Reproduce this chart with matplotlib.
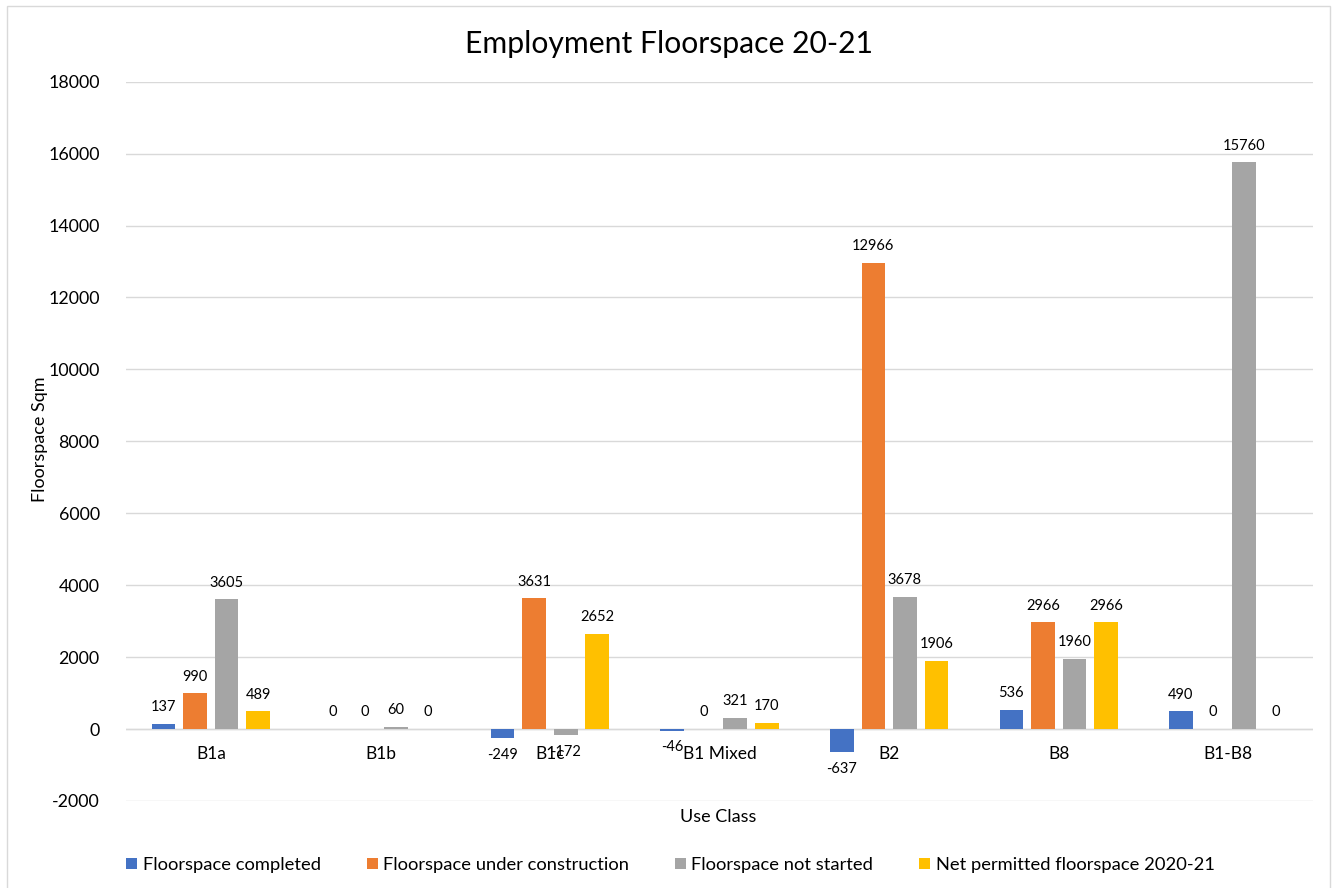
import matplotlib
matplotlib.use("Agg")
import matplotlib.pyplot as plt
from matplotlib.patches import Rectangle
import numpy as np

plt.rcParams['font.family'] = ['Lato', 'DejaVu Sans']

categories = ["B1a", "B1b", "B1c", "B1 Mixed", "B2", "B8", "B1-B8"]
series_names = ["Floorspace completed", "Floorspace under construction",
                "Floorspace not started", "Net permitted floorspace 2020-21"]
completed = [137, 0, -249, -46, -637, 536, 490]
under_construction = [990, 0, 3631, 0, 12966, 2966, 0]
not_started = [3605, 60, -172, 321, 3678, 1960, 15760]
net_permitted = [489, 0, 2652, 170, 1906, 2966, 0]
series = [completed, under_construction, not_started, net_permitted]
colors = ["#4472C4", "#ED7D31", "#A5A5A5", "#FFC000"]
yticks = list(range(-2000, 18001, 2000))

fig = plt.figure(figsize=(13.38, 8.88), dpi=100)
ax = fig.add_axes([0.0942, 0.098, 0.8871, 0.81])

x = np.arange(len(categories))
slot = 0.186
width = 0.139
for k, (vals, col, name) in enumerate(zip(series, colors, series_names)):
    pos = x + (k - 1.5) * slot
    ax.bar(pos, vals, width=width, color=col, label=name, zorder=3)
    for px, v in zip(pos, vals):
        if v >= 0:
            ax.annotate(f"{v}", (px, v), xytext=(0, 7), textcoords="offset points",
                        ha="center", va="bottom", fontsize=10.5, color="#000000", zorder=4)
        else:
            ax.annotate(f"{v}", (px, v), xytext=(0, -7), textcoords="offset points",
                        ha="center", va="top", fontsize=10.5, color="#000000", zorder=4)

ax.set_xlim(-0.5, len(categories) - 0.5)
ax.set_ylim(-2000, 18000)
ax.set_yticks(yticks)
ax.set_yticklabels([str(t) for t in yticks], fontsize=12.8)
ax.yaxis.grid(True, color="#D9D9D9", linewidth=1.0, zorder=0)
ax.set_axisbelow(True)
for s in ax.spines.values():
    s.set_visible(False)
ax.tick_params(axis="y", length=0, pad=19)
ax.tick_params(axis="x", length=0)
ax.set_xticks([])
ax.axhline(0, color="#D9D9D9", linewidth=1.0, zorder=2)

for xi, c in zip(x, categories):
    ax.annotate(c, (xi, 0), xytext=(0, -18), textcoords="offset points",
                ha="center", va="center", fontsize=12.5, color="#000000")

fig.text(0.5, 0.951, "Employment Floorspace 20-21", ha="center", va="center",
         fontsize=21.7, color="#000000")

fig.text(0.030, 0.505, "Floorspace Sqm", rotation=90, ha="center", va="center",
         fontsize=13, color="#000000")
fig.text(0.537, 0.080, "Use Class", ha="center", va="center", fontsize=13, color="#000000")

handles, labels = ax.get_legend_handles_labels()
leg = fig.legend(handles, labels, loc="center", bbox_to_anchor=(0.501, 0.026), ncol=4,
                 frameon=False, fontsize=13.2, handlelength=0.6, handleheight=0.6,
                 handletextpad=0.3, columnspacing=2.5)

fig.patches.append(Rectangle((7 / 1338, -0.02), (1330 - 7) / 1338, 1.02 - 6 / 888,
                             transform=fig.transFigure, fill=False,
                             edgecolor="#D9D9D9", linewidth=1.0))

fig.savefig("out.png", dpi=100, facecolor="white")
